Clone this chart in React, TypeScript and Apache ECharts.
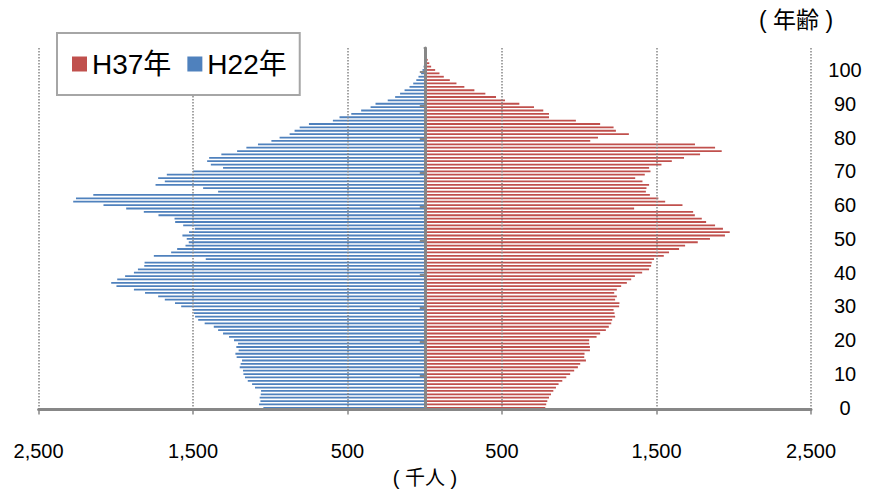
import React, { useEffect, useRef } from "react";
import * as echarts from "echarts";

// Age categories (0 at bottom)
const ages: string[] = Array.from({ length: 107 }, (_, i) => String(i));

// H22 population by age (thousand), ages 0..106
const h22: number[] = [
  1045, 1073, 1064, 1069, 1062, 1060, 1099, 1118, 1146, 1164,
  1174, 1177, 1198, 1192, 1183, 1218, 1226, 1205, 1220, 1209,
  1235, 1267, 1306, 1338, 1366, 1425, 1467, 1487, 1495, 1500,
  1577, 1617, 1683, 1726, 1811, 1883, 1996, 2030, 1991, 1940,
  1883, 1857, 1816, 1814, 1418, 1754, 1642, 1603, 1549, 1528,
  1541, 1569, 1526, 1489, 1564, 1616, 1620, 1724, 1819, 1933,
  2080, 2276, 2258, 2146, 1338, 1435, 1743, 1683, 1726, 1670,
  1500, 1306, 1385, 1409, 1396, 1317, 1215, 1155, 1080, 993,
  940, 875, 843, 810, 750, 595, 552, 476, 412, 351,
  319, 240, 192, 160, 131, 99, 75, 55, 41, 24,
  15, 8, 4, 2, 0, 0, 0,
];

// H37 population by age (thousand), ages 0..106
const h37: number[] = [
  780, 786, 793, 804, 817, 832, 849, 866, 890, 916,
  941, 967, 991, 1006, 1043, 1032, 1034, 1069, 1069, 1064,
  1064, 1112, 1135, 1172, 1191, 1207, 1213, 1232, 1228, 1222,
  1258, 1260, 1232, 1243, 1226, 1243, 1271, 1308, 1336, 1360,
  1407, 1452, 1465, 1469, 1484, 1547, 1581, 1646, 1685, 1767,
  1846, 1943, 1974, 1930, 1879, 1821, 1793, 1748, 1737, 1355,
  1668, 1556, 1512, 1457, 1431, 1435, 1452, 1409, 1362, 1424,
  1461, 1452, 1532, 1599, 1678, 1782, 1922, 1879, 1749, 1071,
  1121, 1321, 1237, 1222, 1135, 978, 804, 804, 767, 707,
  612, 519, 461, 392, 321, 256, 205, 162, 123, 95,
  67, 41, 29, 19, 0, 0, 0,
];

const seriesNames = ["H37年", "H22年"];
const xMin = -2500;
const xMax = 2500;
const xInterval = 1000;

const FONT = '"Liberation Sans", Arial, "Noto Sans CJK JP", sans-serif';
const GRAY = "#878787";

function fmt(v: number): string {
  const a = Math.abs(v);
  return String(a).replace(/\B(?=(\d{3})+(?!\d))/g, ",");
}

export default function App() {
  const ref = useRef<HTMLDivElement>(null);
  useEffect(() => {
    if (!ref.current) return;
    const chart = echarts.init(ref.current, undefined, { renderer: "svg" });
    chart.setOption({
      animation: false,
      backgroundColor: "#fff",
      textStyle: { fontFamily: FONT },
      grid: { left: 38.6, right: 61, top: 48, bottom: 82.5, containLabel: false, outerBoundsMode: "none" },
      legend: {
        data: seriesNames,
        left: 57,
        top: 33,
        orient: "horizontal",
        icon: "rect",
        itemWidth: 15,
        itemHeight: 15,
        itemGap: 16,
        padding: [17, 13, 17, 15],
        backgroundColor: "#fff",
        borderColor: "#a6a6a6",
        borderWidth: 2,
        textStyle: { fontSize: 28, color: "#000", fontFamily: FONT },
      },
      xAxis: {
        type: "value",
        min: xMin,
        max: xMax,
        interval: xInterval,
        z: 3,
        axisLine: { show: true, onZero: false, lineStyle: { color: GRAY, width: 3 } },
        axisTick: { show: true, length: 5, lineStyle: { color: GRAY, width: 1.5 } },
        splitLine: { show: true, lineStyle: { color: GRAY, width: 1.5, type: [1.5, 1.5] } },
        axisLabel: { formatter: fmt, fontSize: 20, color: "#000", margin: 31, fontFamily: FONT },
      },
      yAxis: [
        {
          type: "category",
          data: ages,
          position: "left",
          z: 3,
          axisLine: { show: true, onZero: true, lineStyle: { color: GRAY, width: 3 } },
          axisTick: { show: true, interval: 9, length: 5, lineStyle: { color: GRAY, width: 2 } },
          axisLabel: { show: false },
          splitLine: { show: false },
        },
        {
          type: "category",
          data: ages,
          position: "right",
          axisLine: { show: false, onZero: false },
          axisTick: { show: false },
          splitLine: { show: false },
          axisLabel: { interval: 9, align: "center", margin: 34, fontSize: 20, color: "#000", fontFamily: FONT },
        },
      ],
      series: [
        {
          name: "H22年",
          type: "bar",
          stack: "pop",
          yAxisIndex: 0,
          barWidth: 1.8,
          itemStyle: { color: "#4F81BD" },
          data: h22.map((v) => -v),
        },
        {
          name: "H37年",
          type: "bar",
          stack: "pop",
          yAxisIndex: 0,
          barWidth: 1.8,
          itemStyle: { color: "#C0504D" },
          data: h37,
        },
      ],
      graphic: [
        {
          // hides the extra end-of-axis tick at the top of the centre axis
          type: "rect",
          z: 10,
          shape: { x: 417, y: 45, width: 6.7, height: 6 },
          style: { fill: "#fff" },
        },
        {
          type: "text",
          x: 796,
          y: 20,
          style: { text: "( 年齢 )", fontSize: 23, fill: "#000", align: "center", verticalAlign: "middle", fontFamily: FONT },
        },
        {
          type: "text",
          x: 425,
          y: 478,
          style: { text: "( 千人 )", fontSize: 20, fill: "#000", align: "center", verticalAlign: "middle", fontFamily: FONT },
        },
      ],
    });
    return () => chart.dispose();
  }, []);
  return <div ref={ref} style={{ position: "absolute", left: 0, top: 0, width: 872, height: 492 }} />;
}
